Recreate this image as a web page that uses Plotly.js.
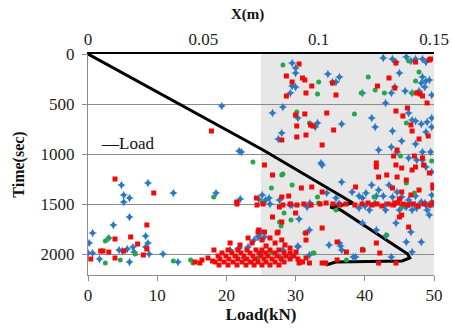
<!DOCTYPE html>
<html><head><meta charset="utf-8">
<script src="https://cdn.plot.ly/plotly-3.0.1.min.js"></script>
<style>html,body{margin:0;padding:0;background:#fff}#chart{width:452px;height:331px}</style>
</head><body><div id="chart"></div>
<script>
// Load curve (bottom axis, kN) vs time (s)
var loadTime = [0, 960, 1490, 1530, 1560, 1780, 2000, 2040, 2070, 2080, 2110];
var loadKN   = [0, 25.3, 38.3, 35.0, 36.5, 41.3, 46.2, 46.5, 45.4, 35.8, 34.4];

// Scatter points [X (m), time (s)] on the top axis
var bluePts = [
[0.0885,90],[0.090,140],[0.090,190],[0.0885,320],[0.090,330],[0.0877,390],[0.104,200],[0.106,280],[0.1075,280],[0.109,230],
[0.119,390],[0.128,40],[0.132,50],[0.1335,80],[0.138,30],[0.140,70],[0.142,50],[0.145,50],[0.1465,80],[0.135,190],
[0.133,330],[0.1315,390],[0.1375,370],[0.1405,390],[0.145,230],[0.1465,270],[0.1445,290],[0.146,330],[0.148,260],[0.149,410],
[0.1435,370],[0.129,490],[0.080,590],[0.0845,530],[0.091,640],[0.0995,690],[0.0985,730],[0.110,700],[0.123,640],[0.1245,730],
[0.132,770],[0.139,590],[0.1405,660],[0.142,670],[0.1445,700],[0.147,680],[0.149,640],[0.149,730],[0.1465,780],[0.084,790],
[0.0825,850],[0.136,870],[0.142,900],[0.126,960],[0.1315,930],[0.134,980],[0.145,980],[0.1485,980],[0.139,1040],[0.1425,1060],
[0.101,1090],[0.058,520],[0.0655,970],[0.0665,980],
[0.0145,1310],[0.026,1290],[0.0155,1410],[0.018,1440],[0.0155,1480],[0.037,1390],[0.0555,1390],[0.066,1450],[0.074,1450],[0.002,1790],
[0.011,1710],[0.018,1630],[0.0005,1890],[0.009,1840],[0.025,1820],[0.026,1890],[0.025,1930],[0.000,1990],[0.002,1990],[0.005,2050],
[0.0135,1960],[0.015,1970],[0.017,1950],[0.0195,1930],[0.020,1980],[0.018,2080],[0.0265,2000],[0.0325,2000],[0.039,2080],[0.0655,1940],
[0.072,1860],[0.074,1820],
[0.1015,1110],[0.110,1280],[0.1035,1390],[0.1145,1380],[0.1175,1420],[0.119,1440],[0.1205,1390],[0.123,1310],[0.125,1420],[0.126,1360],
[0.128,1420],[0.1305,1310],[0.132,1430],[0.134,1380],[0.136,1430],[0.139,1460],[0.142,1420],[0.1445,1480],[0.1465,1510],[0.149,1480],
[0.147,1560],[0.149,1410],[0.149,1180],[0.1465,1130],[0.145,1060],[0.1405,1560],[0.1425,1540],[0.138,1530],[0.135,1560],[0.129,1560],
[0.122,1560],[0.1175,1540],[0.119,1690],[0.125,1760],[0.129,1820],[0.1335,1690],[0.138,1880],[0.140,1780],[0.1445,1880],[0.148,1610],
[0.1405,1980],[0.1315,2030],[0.116,2030],[0.109,1890],[0.1095,1920],[0.110,1960],[0.1045,1910],[0.096,2010],[0.091,1920],[0.0915,1650],
[0.096,1760],[0.095,1530],[0.0885,1510],[0.083,1460],[0.0785,1440],[0.0755,1410],[0.077,1460],[0.1075,1440],[0.1085,1500],[0.075,1780],
[0.0765,1830],[0.115,2030],
[0.0789,1500],[0.0876,1510],[0.0962,1490],[0.1092,1500],[0.1201,1520],[0.1244,1490],[0.1287,1510],[0.1331,1500],[0.1374,1520],[0.1396,1490],
[0.1418,1510],[0.1439,1500],[0.1461,1490],[0.1483,1510],[0.1496,1500],
[0.0694,1930],[0.0754,1980],[0.0832,2030],[0.0884,2020],[0.0676,2040],[0.0616,1960],[0.065,1950],[0.0737,1830],[0.091,1930],[0.0845,1960]
];

var redPts = [
[0.0915,100],[0.086,220],[0.0885,280],[0.093,240],[0.094,260],[0.097,320],[0.0945,390],[0.086,420],[0.106,290],[0.1075,410],
[0.1305,240],[0.1255,320],[0.1335,90],[0.133,340],[0.142,80],[0.148,60],[0.1485,50],[0.1425,390],[0.144,400],[0.145,420],
[0.147,490],[0.090,610],[0.094,600],[0.1035,590],[0.0965,710],[0.0975,720],[0.0905,720],[0.1065,760],[0.0945,810],[0.0905,830],
[0.084,860],[0.1015,910],[0.1335,570],[0.1365,620],[0.1385,540],[0.140,710],[0.1405,770],[0.1435,850],[0.1475,820],[0.134,960],
[0.1325,1020],[0.1415,1020],[0.145,1040],[0.125,1090],[0.0535,770],
[0.0117,1250],[0.0285,1390],[0.0645,1480],[0.073,1440],[0.0255,1710],[0.0185,1830],[0.0117,1850],[0.0215,1900],[0.0255,1950],[0.0055,1970],
[0.0065,1970],[0.009,1980],[0.0155,1970],[0.024,2010],[0.0012,2050],[0.0117,2040],[0.0485,2090],[0.054,2070],
[0.0765,1110],[0.080,1210],[0.0925,1340],[0.097,1330],[0.084,1430],[0.087,1420],[0.1015,1380],[0.116,1330],[0.125,1130],[0.126,1230],
[0.1295,1210],[0.1335,1110],[0.136,1140],[0.134,1230],[0.138,1260],[0.1405,1160],[0.142,1130],[0.1455,1110],[0.148,1190],[0.1495,1310],
[0.132,1340],[0.136,1380],[0.135,1450],[0.133,1490],[0.140,1410],[0.136,1610],[0.139,1730],[0.1495,1340],[0.1435,1360],[0.080,1630],
[0.083,1530],[0.084,1680],[0.090,1590],[0.0945,1790],[0.0945,1860],[0.1015,1740],[0.108,1880],[0.112,1980],[0.119,1960],[0.125,1890],
[0.126,2090],[0.1335,2090],[0.0765,1780],[0.074,1760],[0.082,1790],[0.084,1860],[0.108,2060],[0.096,2090],[0.0915,2090],[0.1015,2090],
[0.1265,1990],[0.135,1630],[0.093,2080],[0.103,2090],
[0.0646,1500],[0.0733,1510],[0.0759,1500],[0.0845,1510],[0.0876,1500],[0.0906,1510],[0.0936,1500],[0.0967,1510],[0.1006,1500],[0.1032,1490],
[0.1062,1500],[0.1092,1510],[0.1118,1500],[0.1157,1510],[0.1188,1500],[0.1214,1490],[0.1231,1510],[0.1253,1500],[0.1274,1520],[0.1301,1500],
[0.1322,1510],[0.1344,1490],[0.1366,1500],[0.1387,1510],[0.1409,1500],[0.1431,1520],[0.1457,1500],[0.1483,1510],[0.1495,1490],
[0.0607,1960],[0.0650,1960],[0.0689,1960],[0.0728,1960],[0.0754,1960],[0.0789,1960],[0.0828,1960],
[0.0581,1990],[0.0624,1990],[0.0663,1990],[0.0702,1990],[0.0741,1990],[0.0772,1990],[0.0811,1990],[0.0850,1990],[0.0876,1990],
[0.0564,2020],[0.0598,2020],[0.0637,2020],[0.0676,2020],[0.0715,2020],[0.0750,2020],[0.0780,2020],[0.0819,2020],[0.0858,2020],[0.0893,2020],
[0.0572,2050],[0.0611,2050],[0.0650,2050],[0.0689,2050],[0.0724,2050],[0.0763,2050],[0.0798,2050],[0.0837,2050],[0.0876,2050],[0.0910,2050],
[0.0551,2080],[0.0590,2080],[0.0629,2080],[0.0668,2080],[0.0707,2080],[0.0737,2080],[0.0772,2080],[0.0811,2080],[0.0850,2080],
[0.0568,2110],[0.0607,2110],[0.0646,2110],[0.0685,2110],[0.0720,2110],[0.0754,2110],[0.0789,2110],[0.0828,2110],
[0.0659,1910],[0.0711,1890],[0.0754,1860],[0.0772,1920],[0.0811,1890],[0.0854,1910],[0.0694,1840],[0.0737,1780],[0.0824,1780],[0.0789,1840],
[0.0616,1890],[0.0876,1940],[0.0902,1980],[0.0919,2080],[0.0945,2040],[0.0546,1960],[0.0520,2040],[0.0494,2060],[0.0464,2080]
];

var greenPts = [
[0.0845,110],[0.100,280],[0.0995,400],[0.1215,230],[0.1185,390],[0.1245,360],[0.1285,390],[0.139,70],[0.1435,180],[0.142,270],
[0.1405,390],[0.0905,580],[0.096,690],[0.1155,600],[0.138,690],[0.149,1070],[0.1355,1020],[0.0715,1080],
[0.0075,1870],[0.009,1840],[0.0205,2000],[0.014,2060],[0.0075,2090],[0.037,2070],[0.0445,2060],[0.0455,2090],[0.0545,1430],
[0.084,1210],[0.0885,1310],[0.0795,1340],[0.0995,1430],[0.100,1490],[0.085,1590],[0.1075,1560],[0.124,1430],[0.138,1290],
[0.1415,1390],[0.136,1530],[0.149,1490],[0.1195,1960],[0.112,2060],[0.098,1990],[0.0755,1480],[0.088,1660],[0.0845,1200],
[0.083,1680],[0.0837,1720],[0.094,1790],[0.1295,1810],[0.119,1950],[0.0975,1990],
[0.0642,2020],[0.0737,2040],[0.0798,1990],[0.0841,2060],[0.0702,2080]
];

var xTicksTop = [0, 0.05, 0.1, 0.15];
var xTickTextTop = ['0', '0.05', '0.1', '0.15'];
var loadTicks = [0, 10, 20, 30, 40, 50];
var timeTicks = [0, 500, 1000, 1500, 2000];

function col(a, i) { return a.map(function (p) { return p[i]; }); }
var serif = 'Liberation Serif';

var traces = [
  {type:'scatter', mode:'markers', xaxis:'x2', yaxis:'y', x:col(bluePts,0), y:col(bluePts,1), showlegend:false,
   marker:{symbol:'star-diamond', size:6.5, color:'#2E78C2', line:{width:0}}},
  {type:'scatter', mode:'markers', xaxis:'x2', yaxis:'y', x:col(greenPts,0), y:col(greenPts,1), showlegend:false,
   marker:{symbol:'circle', size:5, color:'#22A84A', line:{width:0}}},
  {type:'scatter', mode:'markers', xaxis:'x2', yaxis:'y', x:col(redPts,0), y:col(redPts,1), showlegend:false,
   marker:{symbol:'square', size:5, color:'#F20A0A', line:{width:0}}},
  {type:'scatter', mode:'lines', xaxis:'x', yaxis:'y', x:loadKN, y:loadTime, name:'Load', showlegend:false,
   line:{color:'#000', width:3}}
];

var tickFont = {family: serif, size: 17, color: '#222'};
var layout = {
  width: 452, height: 331,
  margin: {l: 88, r: 18, t: 54, b: 56, pad: 0},
  paper_bgcolor: '#fff', plot_bgcolor: '#fff',
  showlegend: false,
  xaxis: {range: [0, 50], tickvals: loadTicks, showgrid: false, zeroline: false,
    showline: true, linecolor: '#8c8c8c', linewidth: 1, ticks: 'outside', ticklen: 5, tickcolor: '#8c8c8c',
    tickfont: tickFont, automargin: false,
    title: {text: '<b>Load(kN)</b>', font: {family: serif, size: 17, color: '#111'}, standoff: 2}},
  xaxis2: {range: [0, 0.15], overlaying: 'x', side: 'top', anchor: 'y', tickvals: xTicksTop, ticktext: xTickTextTop,
    showgrid: false, zeroline: false, showline: true, linecolor: '#000', linewidth: 2, ticks: '',
    tickfont: tickFont, automargin: false},
  yaxis: {range: [2210, 0], tickvals: timeTicks, showgrid: true, gridcolor: '#8c8c8c', gridwidth: 1, zeroline: false,
    showline: true, linecolor: '#8c8c8c', linewidth: 1, ticks: 'outside', ticklen: 5, tickcolor: '#8c8c8c',
    tickfont: tickFont, automargin: false, ticklabelstandoff: 4,
    title: {text: '<b>Time(sec)</b>', font: {family: serif, size: 16, color: '#111'}, standoff: 11}},
  shapes: [{type: 'rect', xref: 'x', yref: 'paper', x0: 25, x1: 50, y0: 0, y1: 1,
    fillcolor: '#e7e7e7', line: {width: 0}, layer: 'below'}],
  annotations: [
    {text: '<b>X(m)</b>', xref: 'paper', yref: 'paper', x: 0.46, y: 1.18, xanchor: 'center', yanchor: 'middle',
     showarrow: false, font: {family: serif, size: 15, color: '#111'}},
    {text: '\u2014Load', xref: 'paper', yref: 'paper', x: 0.033, y: 0.597, xanchor: 'left', yanchor: 'middle',
     showarrow: false, font: {family: serif, size: 17, color: '#111'}}
  ]
};

Plotly.newPlot('chart', traces, layout, {displayModeBar: false, staticPlot: true});
</script>
</body></html>
